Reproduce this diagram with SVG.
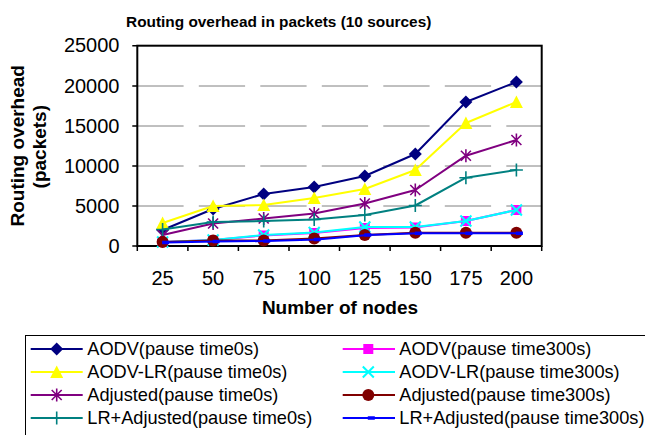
<svg xmlns="http://www.w3.org/2000/svg" width="645" height="435" viewBox="0 0 645 435">
  <style>
    text { font-family: "Liberation Sans", Arial, sans-serif; fill: #000; }
    .title { font-size: 15.4px; font-weight: bold; text-anchor: middle; }
    .axis-title { font-size: 19px; font-weight: bold; text-anchor: middle; }
    .ytick { font-size: 20px; text-anchor: end; }
    .xtick { font-size: 20px; text-anchor: middle; }
    .legend { font-size: 18.2px; }
    .grid { stroke: #808080; stroke-width: 1; stroke-dasharray: 46.3 15.2; fill: none; }
    .tick { stroke: #000; stroke-width: 1.5; }
    .series { fill: none; stroke-width: 2; stroke-linejoin: round; }
  </style>
  <defs>
    <path id="mk-diamond" d="M0,-6.5 L6.5,0 L0,6.5 L-6.5,0Z" fill="#000080"/>
    <path id="mk-triangle" d="M0,-6.5 L6.5,6 L-6.5,6Z" fill="#FFFF00"/>
    <path id="mk-asterisk" d="M-5,-5L5,5M-5,5L5,-5M0,-6.5V6.5" stroke="#800080" stroke-width="1.6" fill="none"/>
    <path id="mk-plus" d="M-6.5,0H6.5M0,-6.5V6.5" stroke="#008080" stroke-width="1.6" fill="none"/>
    <rect id="mk-square" x="-5" y="-5" width="10" height="10" fill="#FF00FF"/>
    <path id="mk-cross" d="M-5.5,-5.5L5.5,5.5M-5.5,5.5L5.5,-5.5" stroke="#00FFFF" stroke-width="2" fill="none"/>
    <circle id="mk-circle" r="6" fill="#800000"/>
    <rect id="mk-dash" x="-3.5" y="-1.75" width="7" height="3.5" fill="#0000FF"/>
  </defs>

  <rect width="645" height="435" fill="#fff"/>

  <text class="title" x="278.7" y="26.7">Routing overhead in packets (10 sources)</text>

  <!-- plot area -->
  <g id="plot-area">
    <rect x="137.3" y="45.7" width="404.4" height="200.3" fill="#fff"/>
    <line class="grid" x1="137.3" y1="86" x2="541.7" y2="86"/>
    <line class="grid" x1="137.3" y1="126" x2="541.7" y2="126"/>
    <line class="grid" x1="137.3" y1="166" x2="541.7" y2="166"/>
    <line class="grid" x1="137.3" y1="206" x2="541.7" y2="206"/>
    <rect x="137.3" y="45.7" width="404.4" height="200.3" fill="none" stroke="#000" stroke-width="2"/>
  </g>

  <!-- axes: ticks and labels -->
  <g id="y-axis">
    <path class="tick" d="M132.3,45.7H137.3M132.3,86H137.3M132.3,126H137.3M132.3,166H137.3M132.3,206H137.3M132.3,246H137.3"/>
    <text class="ytick" x="119.5" y="52.3">25000</text>
    <text class="ytick" x="119.5" y="92.5">20000</text>
    <text class="ytick" x="119.5" y="132.5">15000</text>
    <text class="ytick" x="119.5" y="172.5">10000</text>
    <text class="ytick" x="119.5" y="212.5">5000</text>
    <text class="ytick" x="119.5" y="252.5">0</text>
    <text class="axis-title" x="24" y="145.8" transform="rotate(-90 24 145.8)">Routing overhead</text>
    <text class="axis-title" x="46.5" y="146.7" transform="rotate(-90 46.5 146.7)">(packets)</text>
  </g>

  <g id="x-axis">
    <path class="tick" d="M137.3,246V251M187.9,246V251M238.4,246V251M289,246V251M339.5,246V251M390.1,246V251M440.6,246V251M491.2,246V251M541.7,246V251"/>
    <text class="xtick" x="162.6" y="285">25</text>
    <text class="xtick" x="213.1" y="285">50</text>
    <text class="xtick" x="263.7" y="285">75</text>
    <text class="xtick" x="314.2" y="285">100</text>
    <text class="xtick" x="364.8" y="285">125</text>
    <text class="xtick" x="415.3" y="285">150</text>
    <text class="xtick" x="465.9" y="285">175</text>
    <text class="xtick" x="516.4" y="285">200</text>
    <text class="axis-title" x="340" y="314">Number of nodes</text>
  </g>

  <!-- data series -->
  <g id="connectors">
    <g id="s-aodv-0">
      <polyline class="series" stroke="#000080" points="162.6,230 213.1,209 263.7,194 314.2,187 364.8,176 415.3,154 465.9,102 516.4,82"/>
      <use href="#mk-diamond" x="162.6" y="230"/><use href="#mk-diamond" x="213.1" y="209"/><use href="#mk-diamond" x="263.7" y="194"/><use href="#mk-diamond" x="314.2" y="187"/><use href="#mk-diamond" x="364.8" y="176"/><use href="#mk-diamond" x="415.3" y="154"/><use href="#mk-diamond" x="465.9" y="102"/><use href="#mk-diamond" x="516.4" y="82"/>
    </g>
    <g id="s-aodvlr-0">
      <polyline class="series" stroke="#FFFF00" points="162.6,223 213.1,206 263.7,205 314.2,198 364.8,189 415.3,170 465.9,123 516.4,102"/>
      <use href="#mk-triangle" x="162.6" y="223"/><use href="#mk-triangle" x="213.1" y="206"/><use href="#mk-triangle" x="263.7" y="205"/><use href="#mk-triangle" x="314.2" y="198"/><use href="#mk-triangle" x="364.8" y="189"/><use href="#mk-triangle" x="415.3" y="170"/><use href="#mk-triangle" x="465.9" y="123"/><use href="#mk-triangle" x="516.4" y="102"/>
    </g>
    <g id="s-adj-0">
      <polyline class="series" stroke="#800080" points="162.6,235 213.1,223.5 263.7,218.5 314.2,213.5 364.8,203.5 415.3,190 465.9,155.7 516.4,140"/>
      <use href="#mk-asterisk" x="162.6" y="235"/><use href="#mk-asterisk" x="213.1" y="223.5"/><use href="#mk-asterisk" x="263.7" y="218.5"/><use href="#mk-asterisk" x="314.2" y="213.5"/><use href="#mk-asterisk" x="364.8" y="203.5"/><use href="#mk-asterisk" x="415.3" y="190"/><use href="#mk-asterisk" x="465.9" y="155.7"/><use href="#mk-asterisk" x="516.4" y="140"/>
    </g>
    <g id="s-lradj-0">
      <polyline class="series" stroke="#008080" points="162.6,229.5 213.1,222 263.7,221 314.2,219.5 364.8,215 415.3,205.5 465.9,177.7 516.4,170"/>
      <use href="#mk-plus" x="162.6" y="229.5"/><use href="#mk-plus" x="213.1" y="222"/><use href="#mk-plus" x="263.7" y="221"/><use href="#mk-plus" x="314.2" y="219.5"/><use href="#mk-plus" x="364.8" y="215"/><use href="#mk-plus" x="415.3" y="205.5"/><use href="#mk-plus" x="465.9" y="177.7"/><use href="#mk-plus" x="516.4" y="170"/>
    </g>
    <g id="s-aodv-300">
      <polyline class="series" stroke="#FF00FF" points="162.6,242 213.1,240 263.7,235.5 314.2,233 364.8,228 415.3,227.5 465.9,221 516.4,210"/>
      <use href="#mk-square" x="162.6" y="242"/><use href="#mk-square" x="213.1" y="240"/><use href="#mk-square" x="263.7" y="235.5"/><use href="#mk-square" x="314.2" y="233"/><use href="#mk-square" x="364.8" y="228"/><use href="#mk-square" x="415.3" y="227.5"/><use href="#mk-square" x="465.9" y="221"/><use href="#mk-square" x="516.4" y="210"/>
    </g>
    <g id="s-aodvlr-300">
      <polyline class="series" stroke="#00FFFF" points="162.6,242 213.1,240 263.7,235 314.2,232.5 364.8,227 415.3,227 465.9,221 516.4,210"/>
      <use href="#mk-cross" x="162.6" y="242"/><use href="#mk-cross" x="213.1" y="240"/><use href="#mk-cross" x="263.7" y="235"/><use href="#mk-cross" x="314.2" y="232.5"/><use href="#mk-cross" x="364.8" y="227"/><use href="#mk-cross" x="415.3" y="227"/><use href="#mk-cross" x="465.9" y="221"/><use href="#mk-cross" x="516.4" y="210"/>
    </g>
    <g id="s-adj-300">
      <polyline class="series" stroke="#800000" points="162.6,242 213.1,240.5 263.7,240.5 314.2,238.5 364.8,235 415.3,232.7 465.9,232.7 516.4,232.7"/>
      <use href="#mk-circle" x="162.6" y="242"/><use href="#mk-circle" x="213.1" y="240.5"/><use href="#mk-circle" x="263.7" y="240.5"/><use href="#mk-circle" x="314.2" y="238.5"/><use href="#mk-circle" x="364.8" y="235"/><use href="#mk-circle" x="415.3" y="232.7"/><use href="#mk-circle" x="465.9" y="232.7"/><use href="#mk-circle" x="516.4" y="232.7"/>
    </g>
    <g id="s-lradj-300">
      <polyline class="series" stroke="#0000FF" points="165.6,242.5 216.1,241.5 266.7,241 317.2,239.5 367.8,235 418.3,233.3 468.9,233.3 519.4,233.3"/>
      <use href="#mk-dash" x="165.6" y="242.5"/><use href="#mk-dash" x="216.1" y="241.5"/><use href="#mk-dash" x="266.7" y="241"/><use href="#mk-dash" x="317.2" y="239.5"/><use href="#mk-dash" x="367.8" y="235"/><use href="#mk-dash" x="418.3" y="233.3"/><use href="#mk-dash" x="468.9" y="233.3"/><use href="#mk-dash" x="519.4" y="233.3"/>
    </g>
  </g>

  <!-- legend -->
  <g id="legend">
    <rect x="25.5" y="335.5" width="630" height="120" fill="#fff" stroke="#000" stroke-width="1"/>
    <g id="lg-aodv-0"><line x1="30.7" y1="349" x2="82.7" y2="349" stroke="#000080" stroke-width="2"/><use href="#mk-diamond" x="56.7" y="349"/><text class="legend" x="87.3" y="354.5">AODV(pause time0s)</text></g>
    <g id="lg-aodvlr-0"><line x1="30.7" y1="372" x2="82.7" y2="372" stroke="#FFFF00" stroke-width="2"/><use href="#mk-triangle" x="56.7" y="372"/><text class="legend" x="87.3" y="377.5">AODV-LR(pause time0s)</text></g>
    <g id="lg-adj-0"><line x1="30.7" y1="395" x2="82.7" y2="395" stroke="#800080" stroke-width="2"/><use href="#mk-asterisk" x="56.7" y="395"/><text class="legend" x="87.3" y="400.5">Adjusted(pause time0s)</text></g>
    <g id="lg-lradj-0"><line x1="30.7" y1="418" x2="82.7" y2="418" stroke="#008080" stroke-width="2"/><use href="#mk-plus" x="56.7" y="418"/><text class="legend" x="87.3" y="423.5">LR+Adjusted(pause time0s)</text></g>
    <g id="lg-aodv-300"><line x1="342.7" y1="349" x2="395" y2="349" stroke="#FF00FF" stroke-width="2"/><use href="#mk-square" x="368.3" y="349"/><text class="legend" x="399.3" y="354.5">AODV(pause time300s)</text></g>
    <g id="lg-aodvlr-300"><line x1="342.7" y1="372" x2="395" y2="372" stroke="#00FFFF" stroke-width="2"/><use href="#mk-cross" x="368.3" y="372"/><text class="legend" x="399.3" y="377.5">AODV-LR(pause time300s)</text></g>
    <g id="lg-adj-300"><line x1="342.7" y1="395" x2="395" y2="395" stroke="#800000" stroke-width="2"/><use href="#mk-circle" x="368.3" y="395"/><text class="legend" x="399.3" y="400.5">Adjusted(pause time300s)</text></g>
    <g id="lg-lradj-300"><line x1="342.7" y1="418" x2="395" y2="418" stroke="#0000FF" stroke-width="2"/><use href="#mk-dash" x="371.3" y="418"/><text class="legend" x="399.3" y="423.5">LR+Adjusted(pause time300s)</text></g>
  </g>
</svg>
